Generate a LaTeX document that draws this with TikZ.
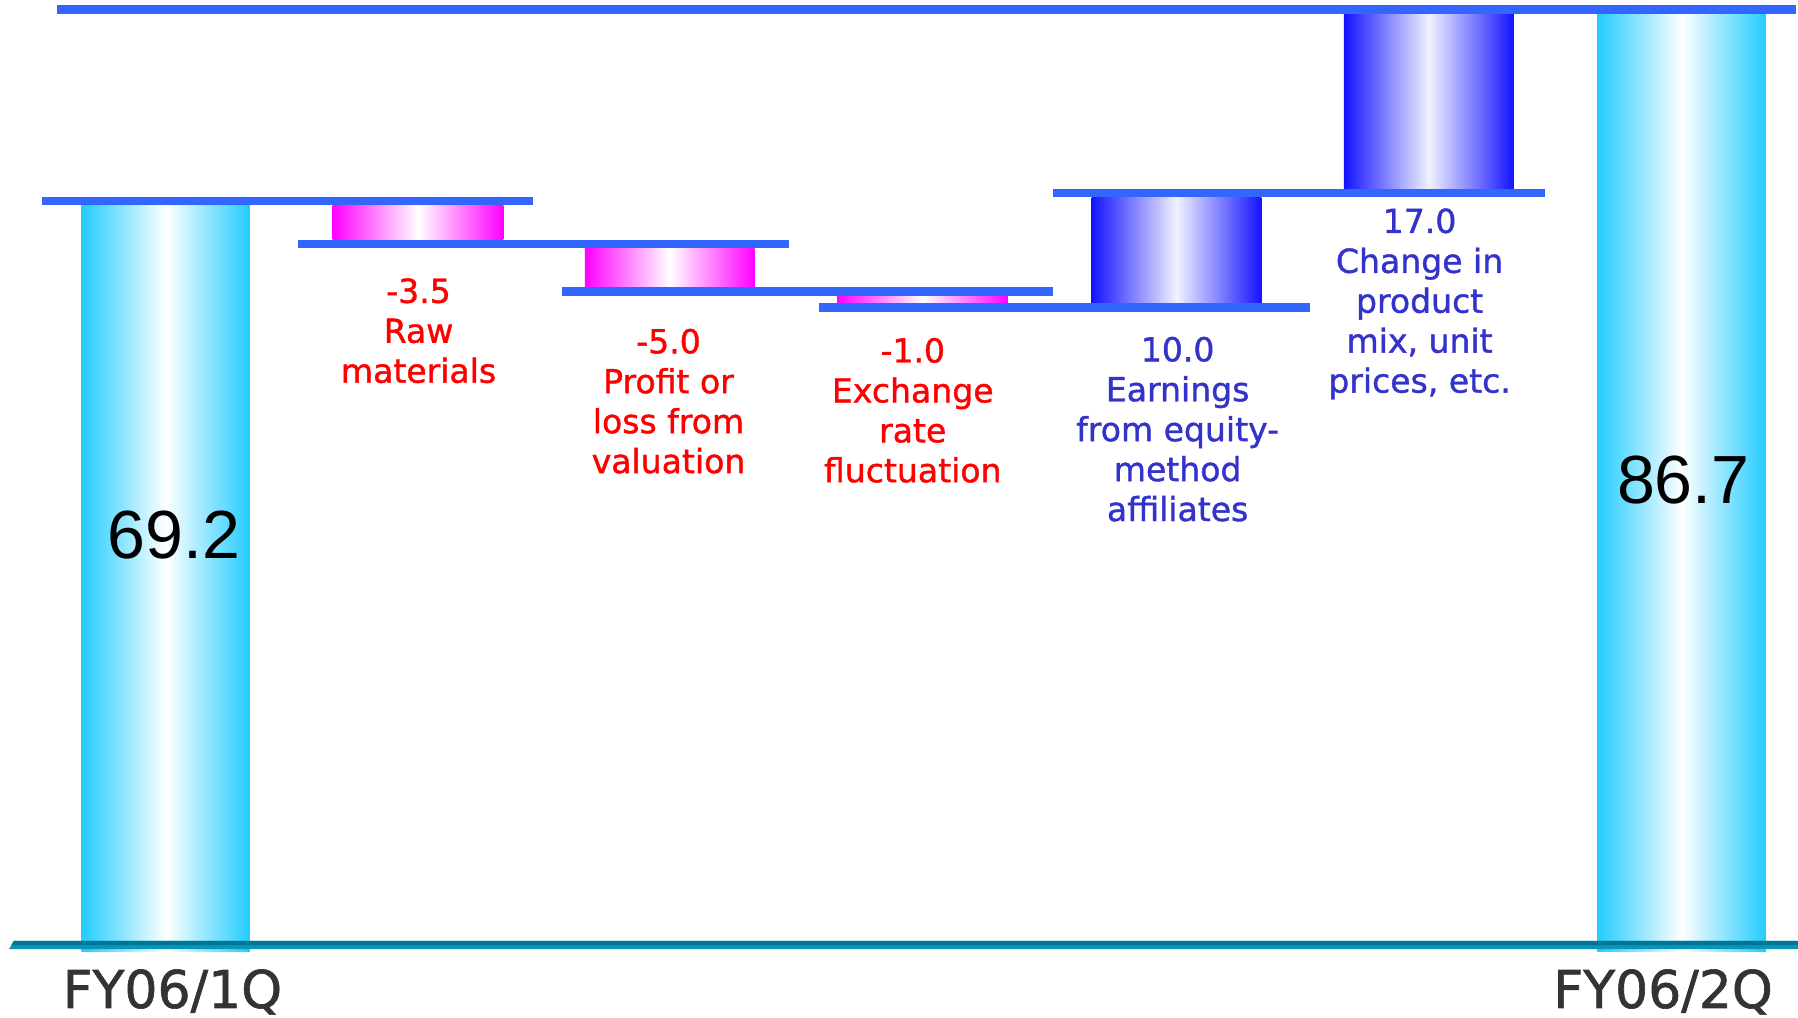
\documentclass[tikz,border=0pt]{standalone}
\usepackage{fontspec}
\setmainfont{DejaVu Sans}
\newfontfamily\labelfont{DejaVu Sans}[FakeBold=1.2]
\newfontfamily\bignum{Liberation Sans}
\definecolor{stepline}{RGB}{51,102,255}
\definecolor{barcyan}{RGB}{34,204,255}
\definecolor{barpink}{RGB}{255,0,255}
\definecolor{barblue}{RGB}{20,20,255}
\definecolor{txtred}{RGB}{255,0,0}
\definecolor{txtblue}{RGB}{51,51,204}
\definecolor{axisdark}{RGB}{0,118,150}
\definecolor{axislight}{RGB}{10,148,184}
\definecolor{qgray}{RGB}{51,51,51}
\begin{document}
\begin{tikzpicture}[x=0.01cm,y=-0.01cm,
    level/.style={fill=stepline},
    totalbar/.style={left color=barcyan,right color=barcyan,middle color=white},
    downbar/.style={left color=barpink,right color=barpink,middle color=white},
    upbar/.style={left color=barblue,right color=barblue,middle color=white!94!barblue},
    redlabel/.style={anchor=north,align=center,inner sep=0pt,text=txtred,
      font=\labelfont\fontsize{8.2}{9.9}\selectfont},
    bluelabel/.style={redlabel,text=txtblue},
    bigvalue/.style={anchor=base,inner sep=0pt,font=\bignum\fontsize{16.9}{20}\selectfont},
    period/.style={anchor=base west,inner sep=0pt,text=qgray,font=\labelfont\fontsize{12.9}{16}\selectfont}]
  \useasboundingbox (0,0) rectangle (1568,887);

  % Totals
  \shade[totalbar] (71,179) rectangle (218,830);
  \shade[totalbar] (1393,12) rectangle (1540,830);

  % Steps
  \shade[downbar] (290,179) rectangle (439,209);
  \shade[downbar] (510,216.5) rectangle (658,250.6);
  \shade[downbar] (730,258) rectangle (879,264.5);
  \shade[upbar] (952,172) rectangle (1100,264.5);
  \shade[upbar] (1172,12) rectangle (1320,165);

  % Levels
  \fill[level] (50,4.5) rectangle (1566,12);
  \fill[level] (37,172) rectangle (465,179);
  \fill[level] (260,209) rectangle (688,216.5);
  \fill[level] (490,250.6) rectangle (918,258);
  \fill[level] (714,264.5) rectangle (1142,272);
  \fill[level] (918,165) rectangle (1347,172);

  % Axis
  \fill[axislight] (8,827.6) -- (12,820.6) -- (1568,820.6) -- (1568,827.6) -- cycle;
  \fill[axisdark] (12,820.6) -- (1568,820.6) -- (1568,824.3) -- (10,824.3) -- cycle;

  \node[bigvalue] (q1val) at (152,487) {69.2};
  \node[bigvalue] (q2val) at (1468,439) {86.7};
  \node[redlabel] (rawmat) at (365,242) {-3.5\\Raw\\materials};
  \node[redlabel] (valuation) at (583,286) {-5.0\\Profit or\\loss from\\valuation};
  \node[redlabel] (exrate) at (796,294) {-1.0\\Exchange\\rate\\fluctuation};
  \node[bluelabel] (equity) at (1027,293) {10.0\\Earnings\\from equity-\\method\\affiliates};
  \node[bluelabel] (prodmix) at (1238,181) {17.0\\Change in\\product\\mix, unit\\prices, etc.};
  \node[period] (q1) at (54,879) {FY06/1Q};
  \node[period] (q2) at (1354,879) {FY06/2Q};
\end{tikzpicture}
\end{document}
